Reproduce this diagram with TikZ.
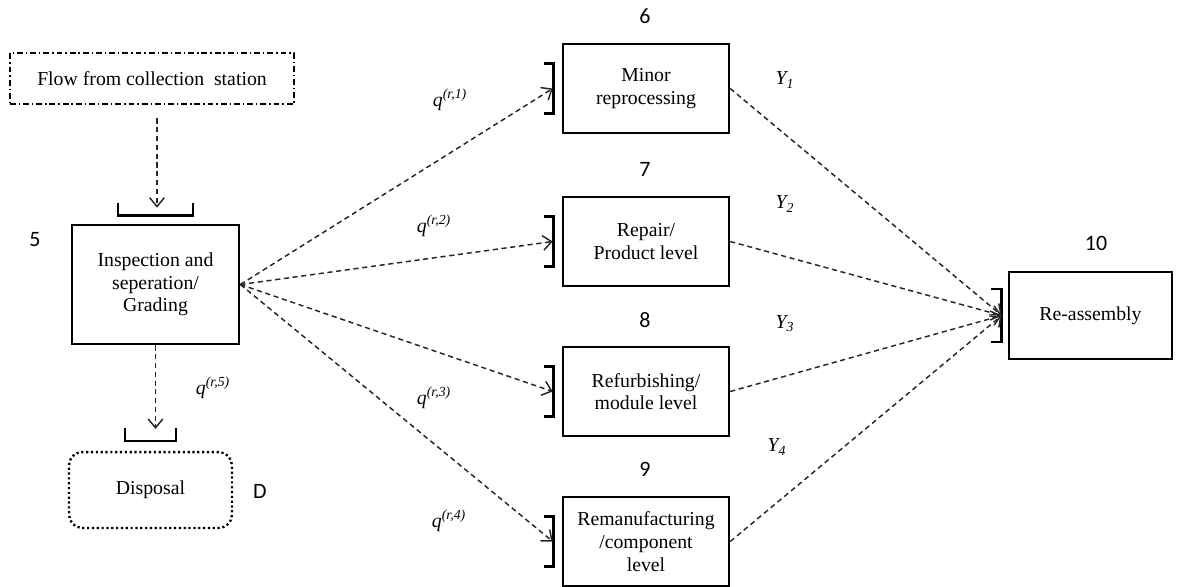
\documentclass[tikz,border=0pt]{standalone}
\usepackage{fontspec}
\setmainfont{Liberation Serif}
\newfontfamily\numfont{Carlito}
\usetikzlibrary{arrows.meta}

\begin{document}
\begin{tikzpicture}[x=0.024cm,y=-0.024cm,
  box/.style={draw,line width=1.8pt,align=center,inner sep=0pt,font=\fontsize{13.5}{15.5}\selectfont},
  proc/.style={box,minimum width=3.98cm,minimum height=2.14cm},
  num/.style={font=\numfont\fontsize{15}{17}\selectfont},
  lab/.style={font=\fontsize{13.5}{15}\selectfont\itshape},
  flowline/.style={draw=black!85,line width=1pt,dash pattern=on 3.5pt off 2.5pt,-{Straight Barb[length=6pt,width=10pt]}},
  brack/.style={line width=1.8pt}]
\useasboundingbox (0,0) rectangle (1177,586);
\node[box,line width=0.9pt,dash pattern=on 4pt off 2pt on 1pt off 2pt,minimum width=6.82cm,minimum height=1.22cm] (src) at (152,78.5) {Flow from collection\ \ station};
\node[box,minimum width=4.01cm,minimum height=2.86cm] (m5) at (155.5,284.5) {Inspection and\\seperation/\\Grading};
\node[box,rounded corners=9pt,line width=1.6pt,dash pattern=on 1.5pt off 1.8pt,minimum width=3.91cm,minimum height=1.82cm] (disp) at (150.5,490) {Disposal};
\node[box,minimum width=3.91cm,minimum height=2.09cm] (m10) at (1090.5,315.5) {Re-assembly};
\node[proc] (p6) at (646,88.5) {Minor\\reprocessing};
\node[proc] (p7) at (646,241.5) {Repair/\\Product level};
\node[proc] (p8) at (646,391.5) {Refurbishing/\\module level};
\node[proc] (p9) at (646,541.5) {Remanufacturing\\/component\\level};

\node[num] (n5) at (35,240) {5};
\node[num] (n10) at (1096,243) {10};
\node[num] (nd) at (260,491) {D};

% brackets and inlets
\draw[brack] ([shift={(-37.5,-21)}]m5.north) -- ++(0,13) -- ++(75,0) -- ++(0,-13);
\coordinate (m5in) at ([shift={(1.5,-16)}]m5.north);
\draw[brack] ([shift={(-25.5,-23)}]disp.north) -- ++(0,13) -- ++(51,0) -- ++(0,-13);
\coordinate (dispin) at ([shift={(5,-22)}]disp.north);
\draw[brack] ([shift={(-17,-26.5)}]m10.west) -- ++(11,0) -- ++(0,53) -- ++(-11,0);
\coordinate (m10in) at ([shift={(-6,0)}]m10.west);

\draw[flowline,shorten <=9.5pt] (src.south -| m5in) -- (m5in);
\draw[flowline] (m5.south) -- (dispin);

\foreach \n in {6,7,8,9}{
  \node[num] (n\n) at ([shift={(-1,-26)}]p\n.north) {\n};
  \draw[brack] ([shift={(-18,-25)}]p\n.west) -- ++(10,0) -- ++(0,50) -- ++(-10,0);
  \coordinate (p\n in) at ([shift={(-9,0)}]p\n.west);
  \draw[flowline] (m5.east) -- (p\n in);
  \draw[flowline] (p\n.east) -- (m10in);
}

\foreach \k/\x/\y in {1/450/100,2/434/226,3/434/398,4/449/521,5/213/388}
  \node[lab] (q\k) at (\x,\y) {q\textsuperscript{(r,\k)}};
\foreach \k/\x/\y in {1/785/80,2/785/204,3/785/324,4/777/447}
  \node[lab] (y\k) at (\x,\y) {Y\textsubscript{\k}};
\end{tikzpicture}
\end{document}
